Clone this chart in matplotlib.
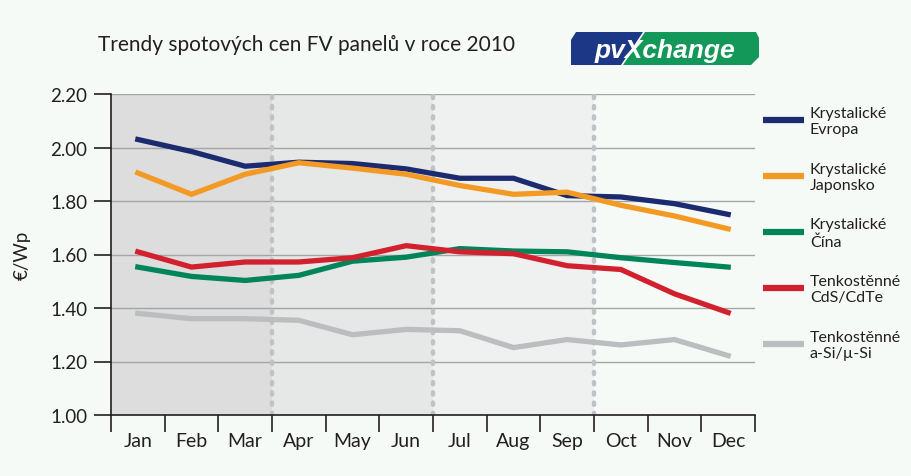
import matplotlib
matplotlib.use("Agg")
import matplotlib.pyplot as plt
from matplotlib.lines import Line2D
from matplotlib.patches import Polygon

plt.rcParams['font.family'] = ['Lato', 'DejaVu Sans']

months = ['Jan', 'Feb', 'Mar', 'Apr', 'May', 'Jun',
          'Jul', 'Aug', 'Sep', 'Oct', 'Nov', 'Dec']
evropa = [2.03, 1.985, 1.93, 1.945, 1.94, 1.92, 1.885, 1.885, 1.82, 1.815, 1.79, 1.75]
japonsko = [1.905, 1.825, 1.90, 1.943, 1.923, 1.90, 1.858, 1.825, 1.833, 1.784, 1.744, 1.696]
cina = [1.553, 1.518, 1.503, 1.522, 1.575, 1.59, 1.622, 1.613, 1.61, 1.588, 1.57, 1.553]
cds = [1.61, 1.553, 1.572, 1.572, 1.588, 1.633, 1.61, 1.603, 1.558, 1.544, 1.453, 1.383]
asi = [1.38, 1.36, 1.36, 1.354, 1.30, 1.32, 1.315, 1.252, 1.282, 1.262, 1.282, 1.222]

labels = ['Krystalické\nEvropa', 'Krystalické\nJaponsko', 'Krystalické\nČína',
          'Tenkostěnné\nCdS/CdTe', 'Tenkostěnné\na-Si/µ-Si']
colors = ['#1c2a70', '#f29a24', '#00845a', '#d2202e', '#bbbdbf']
series = [evropa, japonsko, cina, cds, asi]
yticks = [1.00, 1.20, 1.40, 1.60, 1.80, 2.00, 2.20]
title = 'Trendy spotových cen FV panelů v roce 2010'

bg = '#f6faf7'
fig = plt.figure(figsize=(9.12, 4.77), dpi=100, facecolor=bg)
W, H = 912, 477
ax = fig.add_axes([111 / W, 1 - 416 / H, 644 / W, 321 / H])
ax.set_facecolor(bg)

# quarter shading
for q, c in enumerate(['#dcdddc', '#e5e8e6', '#eef1f0']):
    ax.axvspan(q * 3, q * 3 + 3, color=c, lw=0, zorder=0)

ax.set_xlim(0, 12)
ax.set_ylim(1.0, 2.2)
ax.set_yticks(yticks)
ax.set_yticklabels([f'{v:.2f}' for v in yticks])
ax.yaxis.grid(True, color='#a3a5a6', lw=1)
ax.set_axisbelow(True)

ax.set_xticks(range(13))
ax.set_xticklabels([])
ax.set_xticks([i + 0.5 for i in range(12)], minor=True)
ax.set_xticklabels(months, minor=True)
ax.tick_params(axis='x', which='major', length=12, width=1.2, color='#231f20')
ax.tick_params(axis='x', which='minor', length=0, pad=12, labelsize=14, labelcolor='#231f20')
ax.tick_params(axis='y', length=12, width=1.2, color='#231f20', labelsize=13.5,
               labelcolor='#231f20', pad=5)

for s in ['top', 'right']:
    ax.spines[s].set_visible(False)
for s in ['left', 'bottom']:
    ax.spines[s].set_color('#231f20')
    ax.spines[s].set_linewidth(1.2)

for q in [3, 6, 9]:
    ax.axvline(q, color='#c0c2c3', lw=3.2, linestyle=(0, (0.5, 1.8)),
               dash_capstyle='round', zorder=1.5)

x = [i + 0.5 for i in range(12)]
for vals, c in zip(series, colors):
    ax.plot(x, vals, color=c, lw=3.8, solid_joinstyle='miter', zorder=3, clip_on=False)

ax.set_ylabel('€/Wp', fontsize=13.5, color='#231f20', labelpad=14)

fig.text(98 / W, 1 - 45 / H, title, fontsize=15, color='#231f20', va='center', ha='left')

# legend
for i, (lab, c) in enumerate(zip(labels, colors)):
    yl = 121 + i * 56
    fig.add_artist(Line2D([763 / W, 804 / W], [1 - yl / H, 1 - yl / H],
                          color=c, lw=4.5, solid_capstyle='butt'))
    fig.text(810 / W, 1 - (yl + 1) / H, lab, fontsize=11.5, color='#231f20',
             va='center', ha='left', linespacing=1.25)

# logo
lg = fig.add_axes([571 / W, 1 - 66 / H, 188 / W, 33 / H])
lg.set_xlim(0, 188)
lg.set_ylim(0, 33)
lg.axis('off')
lg.add_patch(Polygon([(0, 0), (0, 25), (5, 33), (72, 33), (50, 0)],
                     closed=True, color='#1b3785', lw=0))
lg.add_patch(Polygon([(52, 0), (74, 33), (185, 33), (188, 27), (188, 8), (180, 0)],
                     closed=True, color='#14985a', lw=0))
lg.text(94, 15, 'pvXchange', color='white', fontsize=19, fontweight='bold',
        fontstyle='italic', fontfamily='Liberation Sans', ha='center', va='center')

fig.savefig('out.png', dpi=100, facecolor=bg)
